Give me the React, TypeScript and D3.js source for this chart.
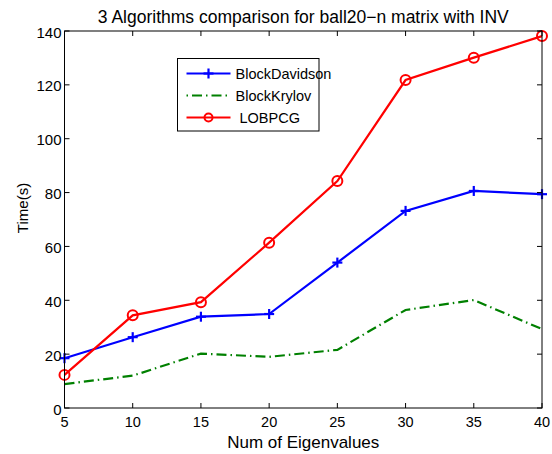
import React from "react";
import * as d3 from "d3";

const xValues = [5, 10, 15, 20, 25, 30, 35, 40];
const blockDavidson = [18.5, 26.3, 33.9, 34.9, 54.0, 73.2, 80.6, 79.4];
const blockKrylov = [8.9, 12.0, 20.2, 19.0, 21.6, 36.4, 40.1, 29.3];
const lobpcg = [12.3, 34.4, 39.3, 61.4, 84.3, 121.8, 130.1, 138.1];
const xTicks = [5, 10, 15, 20, 25, 30, 35, 40];
const yTicks = [0, 20, 40, 60, 80, 100, 120, 140];
const seriesNames = ["BlockDavidson", "BlockKrylov", "LOBPCG"];

const W = 552, H = 454;
const L = 64.5, R = 542, T = 31, B = 408;
const FONT = "'Liberation Sans', Arial, Helvetica, sans-serif";

export default function App() {
  const x = d3.scaleLinear().domain([5, 40]).range([L, R]);
  const y = d3.scaleLinear().domain([0, 140]).range([B, T]);
  const line = d3.line<number>().x((_, i) => x(xValues[i])).y((d) => y(d));
  const tl = 5;

  const legX = 177.5, legY = 58.5, legW = 141.5, legH = 72.5;
  const rows = [legY + 15, legY + 37, legY + 59];

  return (
    <svg width={W} height={H} style={{ position: "absolute", left: 0, top: 0 }} xmlns="http://www.w3.org/2000/svg">
      <rect x={0} y={0} width={W} height={H} fill="#fff" />
      <text x={(L + R) / 2} y={23} textAnchor="middle" fontFamily={FONT} fontSize={17.5} fill="#000">
        3 Algorithms comparison for ball20−n matrix with INV
      </text>
      {/* data lines */}
      <path d={line(blockKrylov) || ""} fill="none" stroke="#008000" strokeWidth={2.2} strokeDasharray="10,4,1.5,4" />
      <path d={line(blockDavidson) || ""} fill="none" stroke="#0000ff" strokeWidth={2.2} />
      <path d={line(lobpcg) || ""} fill="none" stroke="#ff0000" strokeWidth={2.2} />
      {blockDavidson.map((v, i) => (
        <g key={"p" + i} stroke="#0000ff" strokeWidth={2.2}>
          <line x1={x(xValues[i]) - 5} x2={x(xValues[i]) + 5} y1={y(v)} y2={y(v)} />
          <line x1={x(xValues[i])} x2={x(xValues[i])} y1={y(v) - 5} y2={y(v) + 5} />
        </g>
      ))}
      {lobpcg.map((v, i) => (
        <circle key={"c" + i} cx={x(xValues[i])} cy={y(v)} r={5} fill="none" stroke="#ff0000" strokeWidth={2} />
      ))}
      {/* axes box */}
      <rect x={L} y={T} width={R - L} height={B - T} fill="none" stroke="#000" strokeWidth={1} />
      {xTicks.map((t) => (
        <g key={"xt" + t}>
          <line x1={x(t)} x2={x(t)} y1={B} y2={B - tl} stroke="#000" />
          <line x1={x(t)} x2={x(t)} y1={T} y2={T + tl} stroke="#000" />
          <text x={x(t)} y={427} textAnchor="middle" fontFamily={FONT} fontSize={14.5} fill="#000">{t}</text>
        </g>
      ))}
      {yTicks.map((t) => (
        <g key={"yt" + t}>
          <line x1={L} x2={L + tl} y1={y(t)} y2={y(t)} stroke="#000" />
          <line x1={R} x2={R - tl} y1={y(t)} y2={y(t)} stroke="#000" />
          <text x={L - 3} y={y(t) + 6.5} textAnchor="end" fontFamily={FONT} fontSize={15} fill="#000">{t}</text>
        </g>
      ))}
      <text x={(L + R) / 2} y={448} textAnchor="middle" fontFamily={FONT} fontSize={17} fill="#000">Num of Eigenvalues</text>
      <text transform={`translate(28,208) rotate(-90)`} textAnchor="middle" fontFamily={FONT} fontSize={15} fill="#000">Time(s)</text>
      {/* legend */}
      <rect x={legX} y={legY} width={legW} height={legH} fill="#fff" stroke="#000" strokeWidth={1} />
      <line x1={legX + 9} x2={legX + 53} y1={rows[0]} y2={rows[0]} stroke="#0000ff" strokeWidth={2.2} />
      <line x1={legX + 26} x2={legX + 36} y1={rows[0]} y2={rows[0]} stroke="#0000ff" strokeWidth={2.2} />
      <line x1={legX + 31} x2={legX + 31} y1={rows[0] - 5} y2={rows[0] + 5} stroke="#0000ff" strokeWidth={2.2} />
      <line x1={legX + 9} x2={legX + 53} y1={rows[1]} y2={rows[1]} stroke="#008000" strokeWidth={2.2} strokeDasharray="1.5,4,10,4" />
      <line x1={legX + 9} x2={legX + 53} y1={rows[2]} y2={rows[2]} stroke="#ff0000" strokeWidth={2.2} />
      <circle cx={legX + 31} cy={rows[2]} r={4} fill="none" stroke="#ff0000" strokeWidth={2} />
      {seriesNames.map((n, i) => (
        <text key={n} x={legX + (i === 2 ? 62 : 58)} y={rows[i] + 5} fontFamily={FONT} fontSize={14.5} fill="#000">{n}</text>
      ))}
    </svg>
  );
}
